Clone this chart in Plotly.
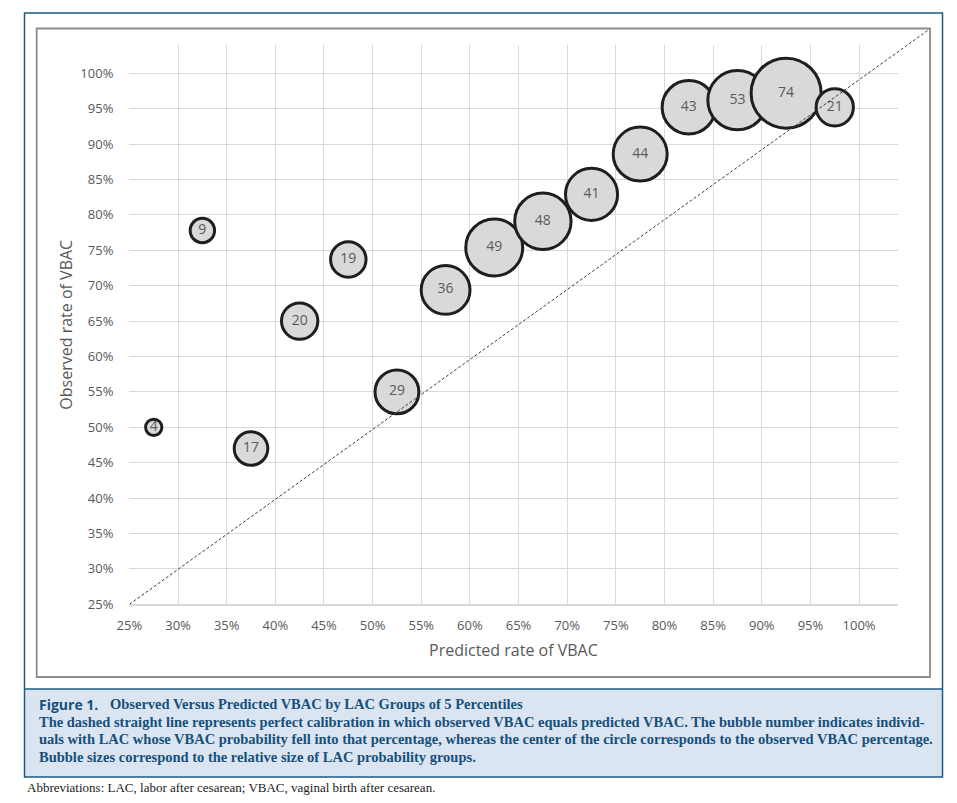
import plotly.graph_objects as go

# data
predicted = [27.5, 32.5, 37.5, 42.5, 47.5, 52.5, 57.5, 62.5, 67.5, 72.5, 77.5, 82.5, 87.5, 92.5, 97.5]
observed = [50.0, 77.8, 47.0, 65.0, 73.7, 55.0, 69.4, 75.4, 79.1, 82.9, 88.6, 95.2, 96.2, 97.2, 95.2]
group_n = [4, 9, 17, 20, 19, 29, 36, 49, 48, 41, 44, 43, 53, 74, 21]

diag_x = [25, 107.2]
diag_y = [25, 106.2]

tick_vals = list(range(25, 101, 5))
tick_text = [f"{v}%" for v in tick_vals]

W, H = 957, 803
PAGE_OFFSET = 8  # default body margin of the html page


def fx(px):
    return (px - PAGE_OFFSET) / W


def fy(py):
    return 1 - (py - PAGE_OFFSET) / H


# plot box in pixels
left, right, top, bottom = 129.4, 898.0, 45.0, 604.3
x_range = [25, 104]
y_range = [25, 104]
# box that the dashed line is clipped to (inner chart frame)
d_right, d_top = 930.0, 28.5

TICK_FONT = dict(family="Open Sans", size=13, color="#595959")
CAP_BLUE = "#16507c"

fig = go.Figure()

max_d = 70
fig.add_trace(
    go.Scatter(
        x=predicted,
        y=observed,
        mode="markers+text",
        text=[str(n) for n in group_n],
        textposition="middle center",
        textfont=dict(family="Open Sans", size=14, color="#595959"),
        marker=dict(
            size=group_n,
            sizemode="area",
            sizeref=2.0 * max(group_n) / max_d**2,
            color="#d9d9d9",
            opacity=1,
            line=dict(color="#1e1e1e", width=3),
        ),
        cliponaxis=False,
        showlegend=False,
        hoverinfo="skip",
    )
)

fig.add_trace(
    go.Scatter(
        x=diag_x,
        y=diag_y,
        xaxis="x2",
        yaxis="y2",
        mode="lines",
        line=dict(color="#404040", width=1, dash="3px,2px"),
        showlegend=False,
        hoverinfo="skip",
    )
)

x2_end = x_range[0] + (d_right - left) / (right - left) * (x_range[1] - x_range[0])
y2_end = y_range[0] + (bottom - d_top) / (bottom - top) * (y_range[1] - y_range[0])

fig.update_layout(
    width=W,
    height=H,
    autosize=False,
    margin=dict(l=0, r=0, t=0, b=0, pad=0, autoexpand=False),
    paper_bgcolor="white",
    plot_bgcolor="rgba(0,0,0,0)",
    xaxis=dict(
        domain=[fx(left), fx(right)],
        range=x_range,
        tickvals=tick_vals,
        ticktext=tick_text,
        tickfont=TICK_FONT,
        ticks="",
        ticklabelstandoff=8,
        showgrid=True,
        gridcolor="#d9d9d9",
        gridwidth=1.4,
        showline=True,
        linecolor="#d9d9d9",
        linewidth=2,
        zeroline=False,
        automargin=False,
        anchor="y",
    ),
    yaxis=dict(
        domain=[fy(bottom), fy(top)],
        range=y_range,
        tickvals=tick_vals,
        ticktext=tick_text,
        tickfont=TICK_FONT,
        ticks="",
        ticklabelstandoff=15,
        showgrid=True,
        gridcolor="#d9d9d9",
        gridwidth=1.4,
        showline=False,
        zeroline=False,
        automargin=False,
        anchor="x",
    ),
    xaxis2=dict(domain=[fx(left), fx(d_right)], range=[x_range[0], x2_end],
                visible=False, automargin=False, anchor="y2"),
    yaxis2=dict(domain=[fy(bottom), fy(d_top)], range=[y_range[0], y2_end],
                visible=False, automargin=False, anchor="x2"),
)

# frames and caption box
fig.add_shape(type="rect", xref="paper", yref="paper",
              x0=fx(25), x1=fx(942.5), y0=fy(777), y1=fy(689),
              fillcolor="#dbe5f1", line=dict(width=0), layer="below")
fig.add_shape(type="rect", xref="paper", yref="paper",
              x0=fx(24.5), x1=fx(942.5), y0=fy(777), y1=fy(13),
              line=dict(color="#1c5a85", width=1.5))
fig.add_shape(type="line", xref="paper", yref="paper",
              x0=fx(24.5), x1=fx(942.5), y0=fy(689), y1=fy(689),
              line=dict(color="#1c5a85", width=1.5))
fig.add_shape(type="rect", xref="paper", yref="paper",
              x0=fx(36.7), x1=fx(930), y0=fy(677), y1=fy(28.5),
              line=dict(color="#8c8c8c", width=1.8))

# axis titles
fig.add_annotation(text="Predicted rate of VBAC", xref="paper", yref="paper",
                   x=fx((left + right) / 2), y=fy(650), showarrow=False,
                   xanchor="center", yanchor="middle",
                   font=dict(family="Open Sans", size=16, color="#595959"))
fig.add_annotation(text="Observed rate of VBAC", xref="paper", yref="paper",
                   x=fx(66), y=fy((top + bottom) / 2), showarrow=False, textangle=-90,
                   xanchor="center", yanchor="middle",
                   font=dict(family="Open Sans", size=16, color="#595959"))

# caption
fig.add_annotation(text="<b>Figure 1.</b>", xref="paper", yref="paper",
                   x=fx(37), y=fy(704), showarrow=False, xanchor="left", yanchor="middle",
                   font=dict(family="Open Sans", size=14, color=CAP_BLUE))
fig.add_annotation(text="<b>Observed Versus Predicted VBAC by LAC Groups of 5 Percentiles</b>",
                   xref="paper", yref="paper", x=fx(108), y=fy(704), showarrow=False,
                   xanchor="left", yanchor="middle",
                   font=dict(family="Liberation Serif", size=14.5, color=CAP_BLUE))
caption_lines = [
    "The dashed straight line represents perfect calibration in which observed VBAC equals predicted VBAC. The bubble number indicates individ-",
    "uals with LAC whose VBAC probability fell into that percentage, whereas the center of the circle corresponds to the observed VBAC percentage.",
    "Bubble sizes correspond to the relative size of LAC probability groups.",
]
for i, line in enumerate(caption_lines):
    fig.add_annotation(text=f"<b>{line}</b>", xref="paper", yref="paper",
                       x=fx(37), y=fy(721.7 + i * 17.5), showarrow=False,
                       xanchor="left", yanchor="middle",
                       font=dict(family="Liberation Serif", size=14.5, color=CAP_BLUE))

fig.add_annotation(text="Abbreviations: LAC, labor after cesarean; VBAC, vaginal birth after cesarean.",
                   xref="paper", yref="paper", x=fx(25), y=fy(787), showarrow=False,
                   xanchor="left", yanchor="middle",
                   font=dict(family="Liberation Serif", size=13, color="#1a1a1a"))

fig.write_html("out.html")
